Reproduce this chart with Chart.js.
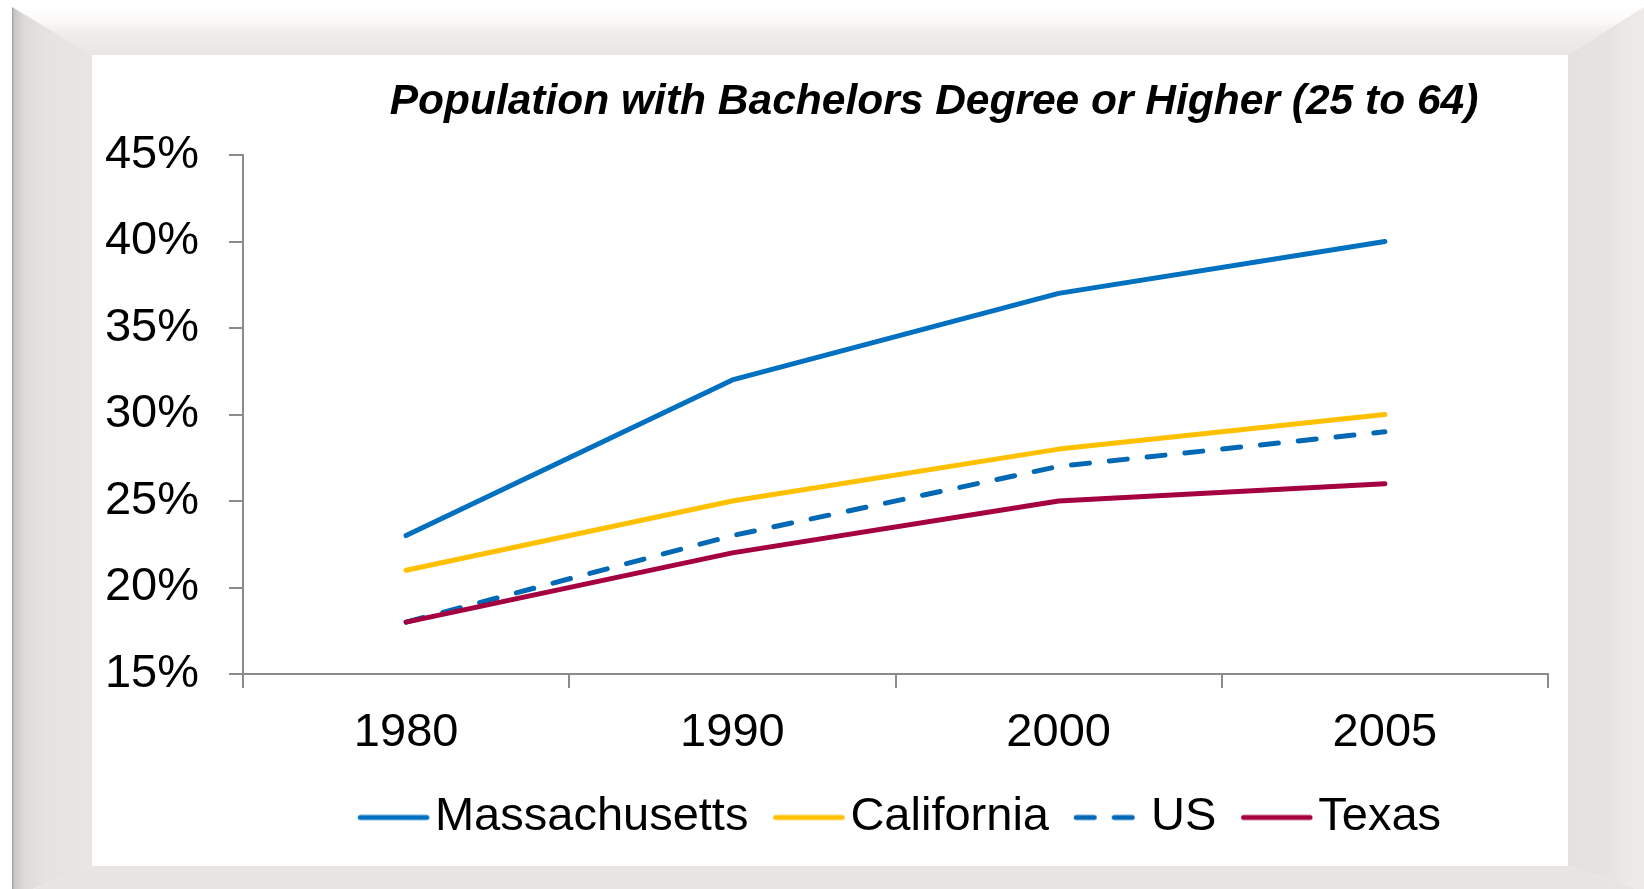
<!DOCTYPE html>
<html>
<head>
<meta charset="utf-8">
<script src="https://cdn.jsdelivr.net/npm/chart.js@4.4.1/dist/chart.umd.min.js"></script>
<style>
  html, body { margin: 0; padding: 0; width: 1644px; height: 889px; overflow: hidden; background: #fff; }
  .piece { position: absolute; left: 0; top: 0; width: 1644px; height: 889px; z-index: 3; }
  #top { clip-path: polygon(12px 7px, 1644px 7px, 1568px 55px, 92px 55px);
         background: linear-gradient(to bottom, #ffffff 7px, #fbfaf9 20px, #efece9 34px, #e9e6e3 55px); }
  #left { clip-path: polygon(12px 7px, 92px 55px, 92px 866px, 12px 897px);
          background: linear-gradient(to right, #fff 10px, #b5b3b1 11px, #9c9a98 12px, #c8c5c2 14px, #dddad7 24px, #e5e2df 45px, #e8e5e2 92px); }
  #right { clip-path: polygon(1644px 7px, 1660px 897px, 1568px 866px, 1568px 55px);
           background: linear-gradient(to right, #e5e1de 1568px, #e7e3e0 1612px, #ece8e5 1624px, #eeeae7 1644px); }
  #bottom { clip-path: polygon(12px 897px, 92px 866px, 1568px 866px, 1660px 897px);
            background: #e8e4e1; }
  #white { position: absolute; left: 92px; top: 55px; width: 1476px; height: 811px; background: #fff; z-index: 1; }
  #chart { position: absolute; left: 92px; top: 55px; z-index: 2; }
</style>
</head>
<body>
<div id="white"></div>
<canvas id="chart" width="1684" height="796" style="width:1684px;height:796px"></canvas>
<div class="piece" id="top"></div>
<div class="piece" id="left"></div>
<div class="piece" id="right"></div>
<div class="piece" id="bottom"></div>
<script>
// data (percent)
const years = ['1980', '1990', '2000', '2005'];
const massachusetts = [23, 32, 37, 40];
const california = [21, 25, 28, 30];
const us = [18, 23, 27, 29];
const texas = [18, 22, 25, 26];
const yTicks = [15, 20, 25, 30, 35, 40, 45];

const colors = ['#0070c0', '#ffc000', '#0068b5', '#a50040'];
const usDash = [18, 20];

Chart.defaults.font.family = "'Liberation Sans', Arial, sans-serif";
Chart.defaults.color = '#000';

// legend swatch: line sits at the right end of the image so the label text follows closely
function legendLine(color, dash) {
  const c = document.createElement('canvas');
  c.width = 98;
  c.height = 10;
  const g = c.getContext('2d');
  g.strokeStyle = color;
  g.lineWidth = 5;
  g.lineCap = 'round';
  g.setLineDash(dash);
  g.beginPath();
  g.moveTo(28.5, 5);
  g.lineTo(95, 5);
  g.stroke();
  return c;
}
const swatches = [
  legendLine(colors[0], []),
  legendLine(colors[1], []),
  legendLine(colors[2], usDash),
  legendLine(colors[3], [])
];

const common = { borderWidth: 5, pointRadius: 0, pointHoverRadius: 0, fill: false,
                 borderCapStyle: 'round', borderJoinStyle: 'round', tension: 0 };

new Chart(document.getElementById('chart').getContext('2d'), {
  type: 'line',
  data: {
    labels: years,
    datasets: [
      { ...common, label: 'Massachusetts', data: massachusetts, borderColor: colors[0], order: 0 },
      { ...common, label: 'California', data: california, borderColor: colors[1], order: 1 },
      { ...common, label: 'US', data: us, borderColor: colors[2], borderDash: usDash, order: 3 },
      { ...common, label: 'Texas', data: texas, borderColor: colors[3], order: 2 }
    ]
  },
  options: {
    responsive: false,
    animation: false,
    devicePixelRatio: 1,
    layout: { padding: 0 },
    plugins: {
      title: {
        display: true,
        text: 'Population with Bachelors Degree or Higher (25 to 64)',
        color: '#000',
        font: { size: 42.5, weight: 'bold', style: 'italic' },
        padding: { top: 21.5, bottom: 27.5 }
      },
      legend: {
        position: 'bottom',
        fullSize: false,
        labels: {
          usePointStyle: true,
          pointStyleWidth: 61.5,
          boxHeight: 10,
          padding: 17,
          color: '#000',
          font: { size: 47 },
          generateLabels(chart) {
            const items = Chart.defaults.plugins.legend.labels.generateLabels(chart);
            items.sort((a, b) => a.datasetIndex - b.datasetIndex);
            items.forEach(it => { it.pointStyle = swatches[it.datasetIndex]; });
            return items;
          }
        }
      },
      tooltip: { enabled: false }
    },
    scales: {
      x: {
        offset: true,
        grid: { offset: true, drawOnChartArea: false, drawTicks: true, tickLength: 14, color: '#8c8c8c', lineWidth: 2 },
        border: { color: '#8c8c8c', width: 2 },
        ticks: { padding: 17, font: { size: 47 }, color: '#000', maxRotation: 0 },
        afterFit(scale) { scale.height = 103; }
      },
      y: {
        min: yTicks[0],
        max: yTicks[yTicks.length - 1],
        grid: { drawOnChartArea: false, drawTicks: true, tickLength: 14, color: '#8c8c8c', lineWidth: 2 },
        border: { color: '#8c8c8c', width: 2 },
        ticks: {
          stepSize: yTicks[1] - yTicks[0],
          padding: 30,
          font: { size: 47 },
          color: '#000',
          callback: v => v + '%'
        },
        afterFit(scale) { scale.width = 151; }
      },
      spacer: {
        type: 'linear',
        position: 'right',
        grid: { display: false, drawTicks: false },
        border: { display: false },
        ticks: { display: false },
        afterFit(scale) { scale.width = 228; }
      }
    }
  }
});
</script>
</body>
</html>
